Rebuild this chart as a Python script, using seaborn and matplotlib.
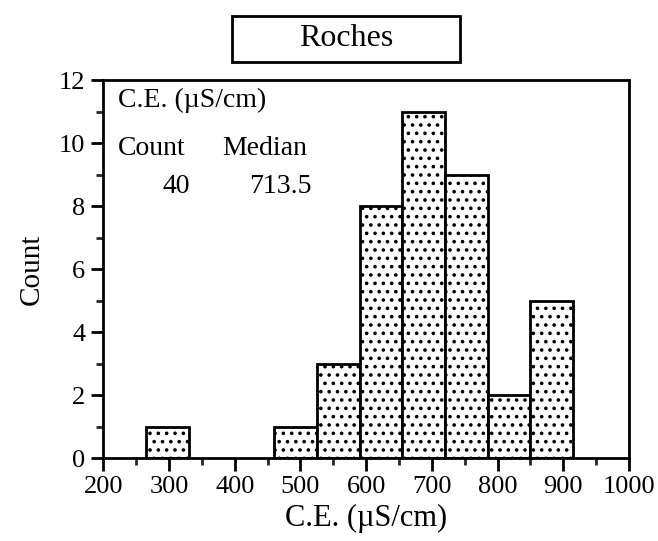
import matplotlib
matplotlib.use("Agg")
import matplotlib.pyplot as plt
import seaborn as sns
import numpy as np
import pandas as pd
from matplotlib.ticker import MultipleLocator
from matplotlib.patches import Rectangle

# ---- data ----
bin_edges = [200, 265, 330, 395, 460, 525, 590, 655, 720, 785, 850, 915]
counts = [0, 1, 0, 0, 1, 3, 8, 11, 9, 2, 5]
x_ticks = [200, 300, 400, 500, 600, 700, 800, 900, 1000]
y_ticks = [0, 2, 4, 6, 8, 10, 12]
title = "Roches"
x_label = "C.E. (µS/cm)"
y_label = "Count"
stat_header = "C.E. (µS/cm)"
stat_count = 40
stat_median = 713.5

sns.set_theme(style="white")
plt.rcParams['font.family'] = ['Liberation Serif', 'DejaVu Serif']
plt.rcParams['hatch.linewidth'] = 1.4
plt.rcParams['hatch.color'] = 'black'

centers = [(bin_edges[i] + bin_edges[i + 1]) / 2 for i in range(len(counts))]
df = pd.DataFrame({"ce": centers, "n": counts})

fig = plt.figure(figsize=(6.58, 5.41), dpi=100)
ax = fig.add_axes([0.157, 0.153, 0.799, 0.699])

sns.histplot(data=df, x="ce", weights="n", bins=bin_edges, ax=ax,
             color="white", edgecolor="black", linewidth=2, alpha=1)
for p in ax.patches:
    p.set_hatch('..')
    if p.get_height() == 0:
        p.set_visible(False)

ax.set_xlim(200, 1000)
ax.set_ylim(0, 12)
ax.set_xticks(x_ticks)
ax.set_yticks(y_ticks)
ax.xaxis.set_minor_locator(MultipleLocator(50))
ax.yaxis.set_minor_locator(MultipleLocator(1))
ax.tick_params(axis='both', which='major', direction='out', length=9, width=2,
               labelsize=19, colors='black', pad=4, bottom=True, left=True)
ax.tick_params(axis='both', which='minor', direction='out', length=5, width=2,
               bottom=True, left=True)
for s in ax.spines.values():
    s.set_visible(True)
    s.set_color('black')
    s.set_linewidth(2)

ax.set_xlabel(x_label, fontsize=22, color='black', labelpad=4)
ax.set_ylabel(y_label, fontsize=21, color='black', labelpad=10)

fs = 20
ax.text(0.0285, 0.947, stat_header, transform=ax.transAxes, fontsize=fs,
        va='center', ha='left', color='black')
ax.text(0.0285, 0.820, "Count", transform=ax.transAxes, fontsize=fs,
        va='center', ha='left', color='black')
ax.text(0.226, 0.820, "Median", transform=ax.transAxes, fontsize=fs,
        va='center', ha='left', color='black')
ax.text(0.165, 0.718, f"{stat_count}", transform=ax.transAxes, fontsize=fs,
        va='center', ha='right', color='black')
ax.text(0.397, 0.718, f"{stat_median}", transform=ax.transAxes, fontsize=fs,
        va='center', ha='right', color='black')

# boxed title
fig.patches.append(Rectangle((232 / 658, 1 - 62 / 541), 228 / 658, 46 / 541,
                             transform=fig.transFigure, facecolor='white',
                             edgecolor='black', linewidth=2))
fig.text(346 / 658, 1 - 39 / 541, title, ha='center', va='center',
         fontsize=23, color='black')

fig.savefig("out.png", dpi=100)
